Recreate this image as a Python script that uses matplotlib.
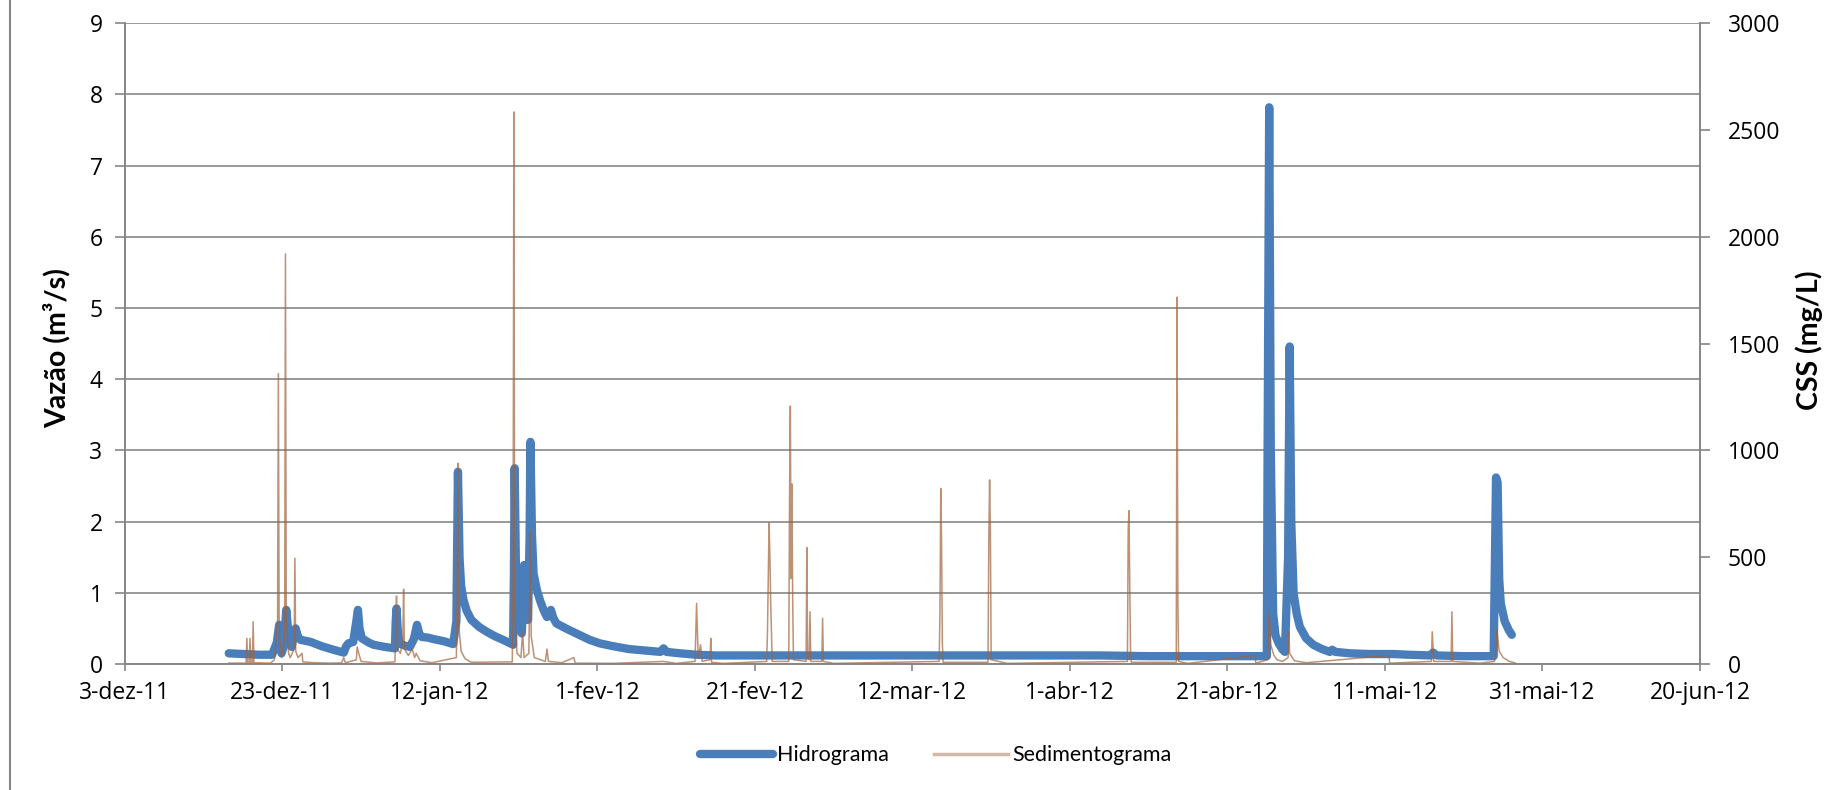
import pandas as pd
import matplotlib
matplotlib.use('Agg')
import matplotlib.pyplot as plt
from matplotlib.lines import Line2D

plt.rcParams['font.family'] = ['Open Sans', 'DejaVu Sans']

start = pd.Timestamp('2011-12-03')
tick_labels = ['3-dez-11', '23-dez-11', '12-jan-12', '1-fev-12', '21-fev-12', '12-mar-12',
               '1-abr-12', '21-abr-12', '11-mai-12', '31-mai-12', '20-jun-12']

# hidrograma: days after 3-dez-11, discharge (m3/s)
hidro_days = [13.2, 15.0, 17.0, 18.7, 19.3, 19.6, 19.9, 20.2, 20.5, 20.9, 21.2, 21.5, 21.7, 22.0,
              22.3, 23.6, 25.0, 26.5, 27.8, 28.1, 28.4, 29.0, 29.4, 29.6, 29.8, 30.1, 31.0, 31.6,
              33.0, 34.3, 34.4, 34.5, 34.7, 34.9, 35.5, 36.2, 36.7, 37.1, 37.4, 37.7, 38.5, 39.2,
              40.5, 41.7, 42.1, 42.3, 42.5, 42.7, 43.0, 43.4, 44.0, 45.0, 46.0, 47.0, 48.2, 49.3,
              49.4, 49.5, 49.7, 50.0, 50.4, 50.6, 50.7, 50.9, 51.2, 51.4, 51.5, 51.7, 51.9, 52.3,
              52.7, 53.2, 53.6, 54.1, 54.4, 54.8, 56.0, 57.5, 59.0, 60.3, 62.0, 64.0, 66.0, 68.0,
              68.4, 68.8, 70.5, 72.6, 75.0, 90.0, 110.0, 123.8, 130.0, 145.0, 145.1, 145.3, 145.5,
              145.8, 146.1, 146.5, 147.0, 147.3, 147.7, 147.9, 148.1, 148.4, 148.8, 149.2, 150.0,
              150.9, 152.0, 153.0, 153.3, 153.7, 155.6, 158.0, 161.1, 163.0, 165.8, 166.1, 166.6,
              170.0, 173.8, 174.1, 174.3, 174.5, 174.7, 175.2, 175.7, 176.1]
hidro_q = [0.15, 0.14, 0.13, 0.13, 0.30, 0.55, 0.15, 0.25, 0.76, 0.30, 0.24, 0.45, 0.50, 0.38,
           0.34, 0.31, 0.25, 0.20, 0.16, 0.25, 0.29, 0.31, 0.60, 0.76, 0.50, 0.36, 0.30, 0.27,
           0.24, 0.22, 0.60, 0.78, 0.40, 0.29, 0.26, 0.24, 0.35, 0.55, 0.42, 0.38, 0.37, 0.35,
           0.32, 0.28, 0.60, 2.70, 1.50, 1.10, 0.90, 0.75, 0.62, 0.52, 0.45, 0.39, 0.33, 0.27,
           1.20, 2.75, 1.00, 0.55, 0.43, 0.90, 1.39, 0.90, 0.62, 1.80, 3.12, 1.80, 1.27, 1.05,
           0.90, 0.75, 0.66, 0.76, 0.65, 0.57, 0.50, 0.42, 0.34, 0.29, 0.25, 0.21, 0.19, 0.17,
           0.22, 0.17, 0.15, 0.13, 0.12, 0.12, 0.12, 0.12, 0.11, 0.11, 3.00, 7.82, 3.00,
           0.71, 0.40, 0.29, 0.20, 0.17, 1.50, 4.46, 2.00, 0.99, 0.70, 0.52, 0.36,
           0.27, 0.21, 0.17, 0.20, 0.17, 0.15, 0.14, 0.14, 0.13, 0.12, 0.16, 0.12,
           0.11, 0.11, 2.62, 2.55, 1.20, 0.85, 0.60, 0.48, 0.41]

# sedimentograma: days after 3-dez-11, CSS (mg/L)
sed_days = [13.2, 15.4, 15.5, 15.6, 15.8, 15.9, 16.0, 16.2, 16.3, 16.4, 18.5, 19.0, 19.4, 19.5,
            19.6, 19.9, 20.3, 20.4, 20.5, 20.8, 21.0, 21.5, 21.6, 21.7, 22.0, 22.5, 22.6, 24.0,
            26.0, 27.5, 27.8, 28.0, 29.4, 29.5, 29.7, 30.0, 32.0, 34.3, 34.4, 34.5, 34.6, 35.0,
            35.3, 35.4, 35.5, 36.0, 36.5, 36.8, 37.0, 37.5, 39.0, 42.1, 42.2, 42.3, 42.4, 42.7,
            43.2, 44.0, 49.2, 49.3, 49.4, 49.5, 49.8, 50.3, 50.5, 50.7, 51.3, 51.4, 51.5, 51.6,
            52.0, 53.4, 53.6, 53.8, 55.5, 57.0, 57.2, 62.0, 68.4, 70.0, 72.4, 72.5, 72.6, 72.7,
            72.8, 73.1, 73.3, 74.3, 74.4, 74.5, 76.0, 81.5, 81.6, 81.8, 81.9, 82.0, 82.1, 82.2,
            84.3, 84.4, 84.5, 84.6, 84.7, 84.8, 84.9, 86.5, 86.6, 86.7, 86.9, 87.0, 87.1, 88.5,
            88.6, 88.7, 90.0, 103.4, 103.5, 103.6, 103.7, 103.8, 103.9, 109.6, 109.7, 109.8,
            109.9, 110.0, 112.0, 127.3, 127.4, 127.5, 127.6, 127.7, 127.8, 133.5, 133.6, 133.7,
            133.8, 135.0, 143.5, 143.6, 145.1, 145.2, 145.3, 145.5, 145.9, 146.3, 147.0, 147.7,
            147.8, 147.9, 148.5, 150.0, 160.5, 160.6, 165.9, 166.0, 166.2, 168.4, 168.5, 168.6,
            172.0, 173.9, 174.1, 174.2, 174.5, 175.0, 175.8, 176.6]
sed_css = [4, 4, 120, 5, 6, 120, 5, 8, 198, 6, 4, 20, 200, 1360,
           150, 30, 120, 1920, 200, 50, 30, 70, 495, 60, 30, 50, 10, 6,
           4, 5, 30, 6, 20, 80, 50, 12, 5, 10, 150, 318, 70, 50,
           120, 350, 70, 40, 70, 30, 50, 15, 6, 30, 300, 940, 180, 60,
           25, 8, 10, 400, 2585, 250, 50, 30, 150, 30, 50, 300, 620, 130,
           30, 12, 70, 12, 6, 30, 4, 3, 12, 3, 12, 150, 284, 150,
           30, 90, 12, 20, 120, 8, 3, 12, 150, 660, 520, 300, 150, 12,
           12, 780, 1208, 400, 843, 300, 20, 12, 545, 50, 20, 245, 12, 12,
           214, 12, 3, 12, 250, 822, 580, 100, 8, 8, 570, 862,
           620, 20, 3, 12, 636, 718, 348, 50, 8, 8, 1718, 310,
           12, 3, 40, 4, 20, 150, 245, 90, 40, 20, 12, 30,
           151, 50, 15, 6, 40, 4, 12, 151, 12, 12, 245, 12,
           4, 12, 80, 162, 60, 30, 12, 4]

blue = '#4a7ebb'
tan = '#a0623c'
grey = '#868686'

fig = plt.figure(figsize=(18.27, 7.9), dpi=100)
ax = fig.add_axes([0.0683, 0.1595, 0.8622, 0.811])
ax2 = ax.twinx()

t_h = start + pd.to_timedelta(hidro_days, unit='D')
t_s = start + pd.to_timedelta(sed_days, unit='D')
ax.plot(t_h, hidro_q, color=blue, lw=6, solid_capstyle='round', solid_joinstyle='round', zorder=3)
ax2.plot(t_s, sed_css, color=tan, alpha=0.7, lw=1.1)

ticks = pd.date_range(start, periods=11, freq='20D')
ax.set_xlim(ticks[0], ticks[-1])
ax.set_xticks(ticks)
ax.set_xticklabels(tick_labels)
ax.set_ylim(0, 9)
ax.set_yticks(range(10))
ax2.set_ylim(0, 3000)
ax2.set_yticks(range(0, 3001, 500))

ax.yaxis.grid(True, color=grey, lw=1.2)
ax.set_axisbelow(True)
for a in (ax, ax2):
    a.spines['top'].set_visible(False)
    for s in ('left', 'right', 'bottom'):
        a.spines[s].set_color(grey)
        a.spines[s].set_linewidth(1.2)
    a.tick_params(colors=grey, labelcolor='black', labelsize=16.5, width=1.2, length=7)
ax.tick_params(axis='x', length=5, pad=7)
ax.tick_params(axis='y', pad=9)
ax2.tick_params(axis='y', pad=13)

ax.set_ylabel('Vazão (m³/s)', fontsize=20.5, fontweight='bold', family='Lato')
ax.yaxis.set_label_coords(-0.0347, 0.4925)
ax2.set_ylabel('CSS (mg/L)', fontsize=20.5, fontweight='bold', family='Lato')
ax2.yaxis.set_label_coords(1.0603, 0.506)

handles = [Line2D([], [], color=blue, lw=6, solid_capstyle='round'),
           Line2D([], [], color=tan, alpha=0.45, lw=2.5)]
fig.legend(handles, ['Hidrograma', 'Sedimentograma'], loc='center', bbox_to_anchor=(0.512, 0.044),
           ncol=2, frameon=False, handlelength=3.4, handletextpad=0.2, columnspacing=2.1,
           prop={'family': 'Lato', 'size': 15.5})

fig.add_artist(Line2D([0.0055, 0.0055], [0, 1], color=grey, lw=1.5))

fig.savefig('out.png', dpi=100)
